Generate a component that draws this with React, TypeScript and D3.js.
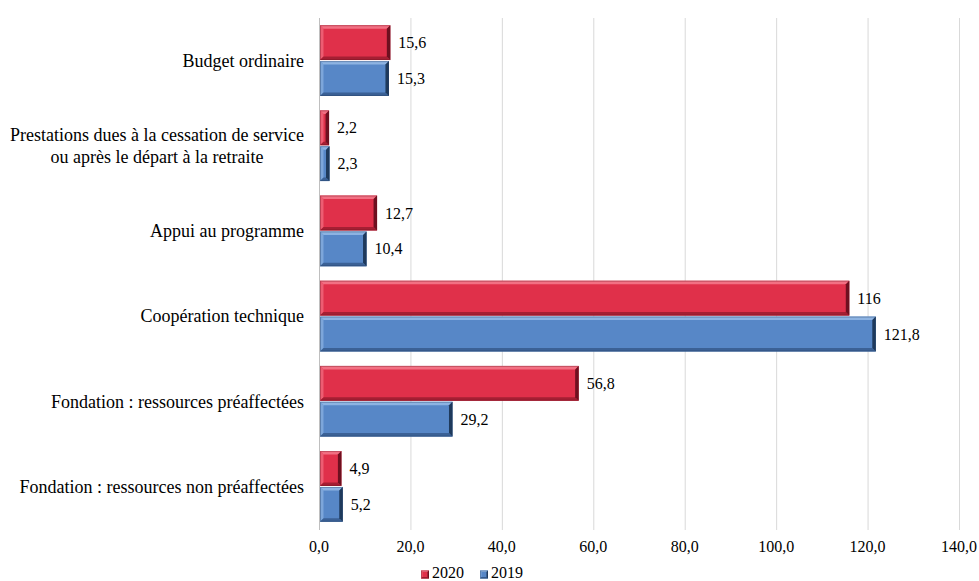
import React from "react";
import * as d3 from "d3";

const categories = [
  "Budget ordinaire",
  "Prestations dues à la cessation de service\nou après le départ à la retraite",
  "Appui au programme",
  "Coopération technique",
  "Fondation : ressources préaffectées",
  "Fondation : ressources non préaffectées",
];
const values2020 = [15.6, 2.2, 12.7, 116, 56.8, 4.9];
const values2019 = [15.3, 2.3, 10.4, 121.8, 29.2, 5.2];
const xTicks = [0, 20, 40, 60, 80, 100, 120, 140];
const seriesNames = ["2020", "2019"];

const W = 979;
const H = 581;
const margin = { top: 18, right: 20, bottom: 52, left: 319 };
const FONT = "'Liberation Serif'";
const FS = 16;
const CAT_FS = 18;
const CAT_LH = 22.5;

type Pal = { body: string; light: string; dark: string; edge: string };
const palettes: Pal[] = [
  { body: "#E0304A", light: "#F27083", dark: "#A51F33", edge: "#6E1020" },
  { body: "#5787C7", light: "#8DB3E2", dark: "#3B6196", edge: "#1F3A5C" },
];

const fmt = (v: number) =>
  Number.isInteger(v) ? String(v) : v.toFixed(1).replace(".", ",");

let measureCtx: CanvasRenderingContext2D | null = null;
function textWidth(s: string, size: number) {
  if (!measureCtx && typeof document !== "undefined") {
    measureCtx = document.createElement("canvas").getContext("2d");
  }
  if (!measureCtx) return s.length * size * 0.45;
  measureCtx.font = `${size}px ${FONT}`;
  return measureCtx.measureText(s).width;
}

const pts = (a: number[][]) => a.map((q) => q.join(",")).join(" ");

function BevelBar({ x, y, w, h, p, b = 3.5 }: { x: number; y: number; w: number; h: number; p: Pal; b?: number }) {
  const bb = Math.min(b, w / 2, h / 2);
  const x2 = x + w;
  const y2 = y + h;
  return (
    <g>
      <rect x={x} y={y} width={w} height={h} fill={p.body} />
      <polygon points={pts([[x, y], [x2, y], [x2 - bb, y + bb], [x + bb, y + bb]])} fill={p.light} />
      <polygon points={pts([[x, y], [x + bb, y + bb], [x + bb, y2 - bb], [x, y2]])} fill={p.light} opacity={0.7} />
      <polygon points={pts([[x, y2], [x + bb, y2 - bb], [x2 - bb, y2 - bb], [x2, y2]])} fill={p.dark} />
      <polygon points={pts([[x2, y], [x2, y2], [x2 - bb, y2 - bb], [x2 - bb, y + bb]])} fill={p.edge} />
      <rect
        x={x + 0.5}
        y={y + 0.5}
        width={Math.max(0, w - 1)}
        height={Math.max(0, h - 1)}
        fill="none"
        stroke={p.edge}
        strokeOpacity={0.35}
      />
    </g>
  );
}

export default function App() {
  const x = d3.scaleLinear().domain([0, 140]).range([margin.left, W - margin.right]);
  const y = d3
    .scaleBand<number>()
    .domain(d3.range(categories.length))
    .range([margin.top, H - margin.bottom])
    .paddingInner(0.17)
    .paddingOuter(0.085);
  const sub = d3.scaleBand<number>().domain([0, 1]).range([0, y.bandwidth()]).paddingInner(0.03);
  const series = [values2020, values2019];
  const labelRight = margin.left - 15;

  // legend layout
  const legendX = 421;
  const legendBase = H - 3;
  let lx = legendX;
  const legendItems = seriesNames.map((name, s) => {
    const item = { name, s, x: lx };
    lx += 11 + textWidth(name, FS) + 16;
    return item;
  });

  return (
    <svg
      width={W}
      height={H}
      style={{ display: "block", position: "absolute", left: 0, top: 0, fontFamily: FONT }}
    >
      {/* vertical gridlines */}
      {xTicks.map((t) => (
        <line
          key={`g${t}`}
          x1={x(t) + 0.5}
          x2={x(t) + 0.5}
          y1={margin.top}
          y2={H - margin.bottom + 1}
          stroke={t === 0 ? "#BFBFBF" : "#D9D9D9"}
        />
      ))}

      {/* x tick labels */}
      {xTicks.map((t) => (
        <text
          key={`t${t}`}
          x={x(t)}
          y={H - margin.bottom + 23}
          textAnchor="middle"
          fontSize={FS}
          fill="#000"
          style={{ fontFamily: FONT }}
        >
          {t.toFixed(1).replace(".", ",")}
        </text>
      ))}

      {/* bars and value labels */}
      {categories.map((_, i) =>
        series.map((vals, s) => {
          const by = (y(i) as number) + (sub(s) as number);
          const bh = sub.bandwidth();
          const x0 = x(0) + 1;
          return (
            <g key={`b${i}-${s}`}>
              <BevelBar x={x0} y={by} w={x(vals[i]) - x0} h={bh} p={palettes[s]} />
              <text
                x={x(vals[i]) + 8}
                y={by + bh / 2}
                dy="0.35em"
                fontSize={FS}
                fill="#000"
                style={{ fontFamily: FONT }}
              >
                {fmt(vals[i])}
              </text>
            </g>
          );
        })
      )}

      {/* category labels; multi-line ones are centred on their widest line */}
      {categories.map((label, i) => {
        const lines = label.split("\n");
        const cy = (y(i) as number) + y.bandwidth() / 2;
        const multi = lines.length > 1;
        const maxW = multi ? Math.max(...lines.map((l) => textWidth(l, CAT_FS))) : 0;
        const tx = multi ? labelRight - maxW / 2 : labelRight;
        return (
          <text
            key={`c${i}`}
            fontSize={CAT_FS}
            fill="#000"
            textAnchor={multi ? "middle" : "end"}
            style={{ fontFamily: FONT }}
          >
            {lines.map((ln, k) => (
              <tspan key={k} x={tx} y={cy + (k - (lines.length - 1) / 2) * CAT_LH} dy="0.35em">
                {ln}
              </tspan>
            ))}
          </text>
        );
      })}

      {/* legend */}
      {legendItems.map((it) => (
        <g key={it.name}>
          <BevelBar x={it.x} y={legendBase - 7.5} w={8} h={8} p={palettes[it.s]} b={1.5} />
          <text x={it.x + 11} y={legendBase} fontSize={FS} fill="#000" style={{ fontFamily: FONT }}>
            {it.name}
          </text>
        </g>
      ))}
    </svg>
  );
}
